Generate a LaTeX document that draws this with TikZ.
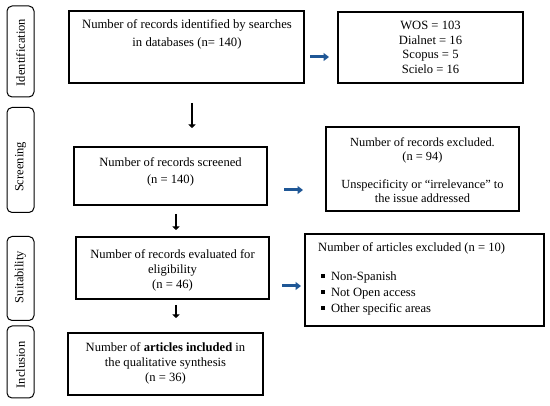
\documentclass[tikz,border=0pt]{standalone}
\usepackage{fontspec}
\setmainfont{Liberation Serif}
\usetikzlibrary{arrows.meta}
\definecolor{arrblue}{HTML}{1F5796}
\newcommand{\sqbul}{\raisebox{2.8pt}{\rule{3.8pt}{3.8pt}}\hspace{6pt}}
\tikzset{
  box/.style={draw=black, line width=1.1pt, inner sep=0pt},
  side/.style={draw=black, line width=1pt, rounded corners=5pt, inner sep=0pt, minimum width=27pt},
  sidetext/.style={rotate=90, font=\fontsize{12.5}{14}\selectfont, inner sep=0pt},
  txt/.style={font=\fontsize{12.6}{15}\selectfont, align=center, inner sep=0pt},
  downarr/.style={line width=2.4pt, -{Triangle[width=7pt,length=3.5pt]}},
  rightarr/.style={arrblue, line width=3pt, -{Triangle[width=8pt,length=5.5pt]}},
}
\begin{document}
\begin{tikzpicture}[x=1pt,y=-1pt]
\useasboundingbox (0,0) rectangle (550,406);
\fill[white] (0,0) rectangle (550,406);
% side labels
\node[side, minimum height=91pt] (sid) at (20.5,51.5) {};
\node[sidetext] (sidt) at (20.5,52.5) {Identification};
\node[side, minimum height=105pt] (sscr) at (20.5,160) {};
\node[sidetext] (sscrt) at (20.5,167) {Screening};
\node[side, minimum height=84pt] (ssui) at (20.5,278.5) {};
\node[sidetext] (ssuit) at (20.5,277) {Suitability};
\node[side, minimum height=72pt] (sinc) at (20.5,362) {};
\node[sidetext] (sinct) at (20.5,365) {Inclusion};
% main boxes
\node[box, minimum width=235pt, minimum height=72pt] (b1) at (186.5,47) {};
\node[txt, font=\fontsize{12.7}{18}\selectfont] (b1t) at (187,34) {Number of records identified by searches\\in databases (n= 140)};
\node[box, minimum width=185pt, minimum height=71pt] (bw) at (430.5,47.5) {};
\node[txt, font=\fontsize{12.6}{14.7}\selectfont] (bwt) at (430.5,47.5) {WOS = 103\\Dialnet = 16\\Scopus = 5\\Scielo = 16};
\node[box, minimum width=193pt, minimum height=58pt] (b2) at (170.5,176) {};
\node[txt, font=\fontsize{12.6}{17}\selectfont] (b2t) at (170.5,171.5) {Number of records screened\\(n = 140)};
\node[box, minimum width=193pt, minimum height=84pt] (be) at (422.5,169) {};
\node[txt, font=\fontsize{12.4}{14}\selectfont] (bet) at (422.5,170.5) {Number of records excluded.\\(n = 94)\\[14pt]Unspecificity or ``irrelevance'' to\\the issue addressed};
\node[box, minimum width=193pt, minimum height=62pt] (b3) at (172.5,268) {};
\node[txt] (b3t) at (172.5,270.5) {Number of records evaluated for\\eligibility\\(n = 46)};
\node[box, minimum width=239pt, minimum height=92pt] (ba) at (424.5,280) {};
\node[txt, anchor=west] (bah) at (318,248) {Number of articles excluded (n = 10)};
\node[txt, font=\fontsize{12.6}{16}\selectfont, align=left, anchor=west] (bab) at (321,293.5) {\sqbul Non-Spanish\\\sqbul Not Open access\\\sqbul Other specific areas};
\node[box, minimum width=195pt, minimum height=62pt] (b4) at (165.5,364) {};
\node[txt] (b4t) at (165.5,363.5) {Number of \textbf{articles included} in\\the qualitative synthesis\\(n = 36)};
% arrows
\coordinate (d1s) at (192,103); \coordinate (d1e) at (192,128);
\coordinate (d2s) at (176,214); \coordinate (d2e) at (176,230);
\coordinate (d3s) at (176,305); \coordinate (d3e) at (176,318);
\draw[downarr] (d1s) -- (d1e);
\draw[downarr] (d2s) -- (d2e);
\draw[downarr] (d3s) -- (d3e);
\coordinate (r1s) at (310,57); \coordinate (r1e) at (329,57);
\coordinate (r2s) at (284,190); \coordinate (r2e) at (303,190);
\coordinate (r3s) at (282,286); \coordinate (r3e) at (301,286);
\draw[rightarr] (r1s) -- (r1e);
\draw[rightarr] (r2s) -- (r2e);
\draw[rightarr] (r3s) -- (r3e);
\end{tikzpicture}
\end{document}
